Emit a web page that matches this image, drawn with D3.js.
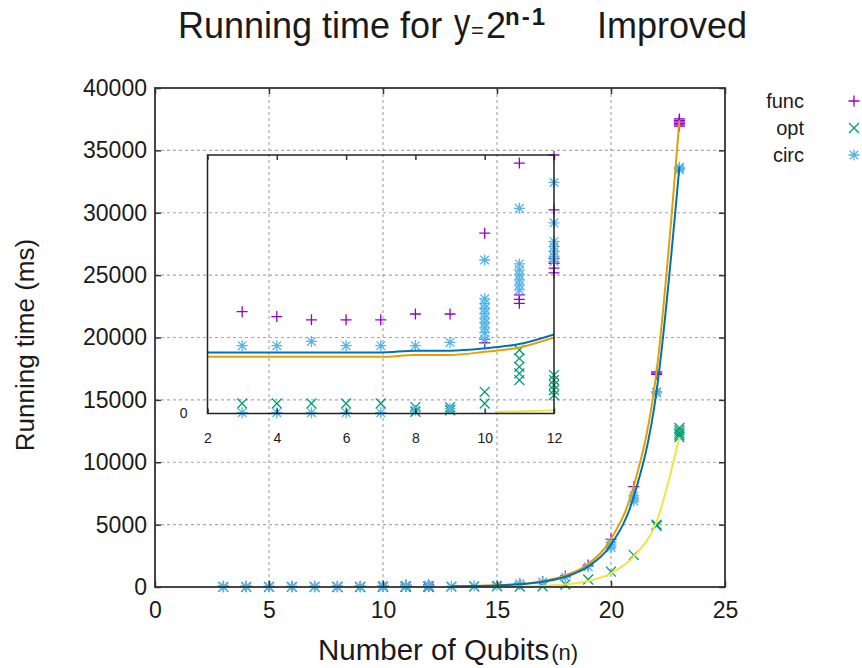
<!DOCTYPE html>
<html>
<head>
<meta charset="utf-8">
<script src="https://cdn.jsdelivr.net/npm/d3@7"></script>
<style>
  body { margin: 0; background: #fff; }
  svg { display: block; }
  text { font-family: "Liberation Sans", Arial, sans-serif; fill: #1a1a1a; }
</style>
</head>
<body>
<svg id="chart" width="862" height="668"></svg>
<script>
// ---- axis ticks ----
const xTicks = [0, 5, 10, 15, 20, 25];
const yTicks = [0, 5000, 10000, 15000, 20000, 25000, 30000, 35000, 40000];
const insetXTicks = [2, 4, 6, 8, 10, 12];
const insetYTicks = [0];

// ---- series (qubits n, running time in ms) ----
const seriesNames = ["func", "opt", "circ"];
const seriesColors = ["#9400d3", "#009e73", "#56b4e9"];

const funcPoints = [
  [3, 63], [4, 60], [5, 58], [6, 58], [7, 58], [8, 61.6], [9, 61.6],
  [10, 111.6], [10, 45.9], [10, 43.8],
  [11, 155], [11, 73.4], [11, 70.7], [11, 68.2],
  [12, 160], [12, 126], [12, 96], [12, 93], [12, 90], [12, 87],
  [16, 250], [17, 450], [18, 880], [19, 1760], [20, 3820], [21, 8040],
  [22, 17250], [22, 17150], [22, 17050],
  [23, 37520], [23, 37400], [23, 37280], [23, 37160], [23, 37040], [23, 36950]
];

const optPoints = [
  [3, 6.2], [4, 6.2], [5, 6.2], [6, 6.2], [7, 6.2], [8, 4], [8, 1], [9, 4], [9, 2],
  [10, 13.4], [10, 6.2],
  [11, 39.3], [11, 34.1], [11, 28.9], [11, 24.8], [11, 20.7],
  [12, 23.8], [12, 20.7], [12, 17.6], [12, 14.5], [12, 11.4],
  [13, 30], [14, 40], [15, 50], [16, 40], [17, 60], [18, 200], [19, 600],
  [20, 1230], [21, 2560], [22, 4900], [22, 5000],
  [23, 12750], [23, 12550], [23, 12350], [23, 12200], [23, 12020]
];

const circPoints = [
  [3, 0.5], [4, 0.5], [5, 0.5], [6, 0.5], [7, 0.5], [8, 2], [9, 3],
  [3, 42], [4, 42], [5, 44.6], [6, 42], [7, 42], [8, 42], [9, 44],
  [10, 95], [10, 71], [10, 68], [10, 65], [10, 62], [10, 59], [10, 56], [10, 53], [10, 50], [10, 46],
  [11, 127], [11, 92.6], [11, 88.9], [11, 85.8], [11, 82.7], [11, 79.6], [11, 76.5],
  [12, 143], [12, 118], [12, 106.5], [12, 103.4], [12, 100.3], [12, 97.2], [12, 94.1],
  [13, 60], [14, 95], [15, 150], [16, 290], [17, 400], [18, 780], [19, 1630],
  [20, 3550], [20, 3350], [20, 3150], [21, 7300], [21, 7100], [21, 6900],
  [22, 15650], [22, 15550], [23, 33650], [23, 33550], [23, 33450]
];

// ---- fitted curves ----
const funcFit = [
  [2, 35.1], [3, 35.1], [4, 35.1], [5, 35.1], [6, 35.1], [7, 35.1], [8, 36.2], [9, 36.2],
  [10, 38.2], [11, 40.9], [12, 47.1], [13, 59], [14, 85], [15, 135], [16, 240], [17, 470],
  [18, 930], [19, 1850], [20, 3850], [21, 8100], [22, 17300], [23, 37400]
];
const circFit = [
  [2, 37.8], [3, 37.8], [4, 37.8], [5, 37.8], [6, 37.8], [7, 37.8], [8, 38.9], [9, 38.9],
  [10, 40.3], [11, 43], [12, 49], [13, 60], [14, 82], [15, 125], [16, 220], [17, 420],
  [18, 820], [19, 1650], [20, 3400], [21, 7250], [22, 15700], [23, 33700]
];
const optFit = [
  [10.3, 1.0], [11, 1.3], [12, 2.0], [13, 4], [14, 8], [15, 18], [16, 40], [17, 90],
  [18, 210], [19, 480], [20, 1100], [21, 2450], [22, 5250], [23, 12000]
];
const fitColors = { func: "#e69f00", opt: "#f0e442", circ: "#0072b2" };

const svg = d3.select("#chart");
const frameColor = "#333";
const gridColor = "#a8a8a8";
const fmt = d3.format("d");

// ---- marker glyphs ----
function glyph(kind, r) {
  const plus = `M${-r},0H${r}M0,${-r}V${r}`;
  const c = r * 0.78;
  const cross = `M${-c},${-c}L${c},${c}M${-c},${c}L${c},${-c}`;
  if (kind === "func") return plus;
  const o = r * 0.9;
  if (kind === "opt") return `M${-o},${-o}L${o},${o}M${-o},${o}L${o},${-o}`;
  return plus + cross;
}
const seriesData = { func: funcPoints, opt: optPoints, circ: circPoints };

function drawPoints(g, x, y, filter) {
  seriesNames.forEach((name, i) => {
    g.append("g").selectAll("path")
      .data(seriesData[name].filter(filter))
      .join("path")
      .attr("transform", d => `translate(${x(d[0])},${y(d[1])})`)
      .attr("d", glyph(name, 5.5))
      .attr("fill", "none")
      .attr("stroke", seriesColors[i])
      .attr("stroke-width", 1.3);
  });
}
function drawFits(g, x, y, xmin, xmax) {
  const line = d3.line().x(d => x(d[0])).y(d => y(d[1])).curve(d3.curveMonotoneX);
  [["func", funcFit], ["opt", optFit], ["circ", circFit]].forEach(([name, data]) => {
    g.append("path")
      .datum(data.filter(d => d[0] >= xmin && d[0] <= xmax))
      .attr("d", line)
      .attr("fill", "none")
      .attr("stroke", fitColors[name])
      .attr("stroke-width", 2);
  });
}
function styleAxis(g, size) {
  g.select(".domain").remove();
  g.selectAll(".tick line").attr("stroke", frameColor).attr("stroke-width", 1.5);
  g.selectAll("text").attr("font-size", size).attr("fill", "#1a1a1a")
    .attr("font-family", '"Liberation Sans", Arial, sans-serif');
}

// ---- main plot ----
const x = d3.scaleLinear().domain([0, 25]).range([155, 725]);
const y = d3.scaleLinear().domain([0, 40000]).range([587, 88]);
const W = x.range()[1] - x.range()[0];
const H = y.range()[0] - y.range()[1];

// dotted grid
const grid = svg.append("g").attr("stroke", gridColor).attr("stroke-width", 1.2).attr("stroke-dasharray", "3,3");
grid.selectAll("line.v").data(xTicks.slice(1, -1)).join("line")
  .attr("x1", d => x(d)).attr("x2", d => x(d)).attr("y1", y.range()[1]).attr("y2", y.range()[0]);
grid.selectAll("line.h").data(yTicks.slice(1, -1)).join("line")
  .attr("x1", x.range()[0]).attr("x2", x.range()[1]).attr("y1", d => y(d)).attr("y2", d => y(d));

const mainG = svg.append("g");
drawPoints(mainG, x, y, () => true);
drawFits(mainG, x, y, 13, 25);

// axes with inward ticks on all four sides, border in front of the data
svg.append("g").attr("transform", `translate(0,${y(0)})`)
  .call(d3.axisBottom(x).tickValues(xTicks).tickFormat(fmt).tickSizeInner(-6).tickSizeOuter(0).tickPadding(15))
  .call(g => styleAxis(g, 23));
svg.append("g").attr("transform", `translate(0,${y(40000)})`)
  .call(d3.axisTop(x).tickValues(xTicks).tickSizeInner(-6).tickSizeOuter(0).tickFormat(""))
  .call(g => styleAxis(g, 23));
svg.append("g").attr("transform", `translate(${x(0)},0)`)
  .call(d3.axisLeft(y).tickValues(yTicks).tickFormat(fmt).tickSizeInner(-6).tickSizeOuter(0).tickPadding(8))
  .call(g => styleAxis(g, 23));
svg.append("g").attr("transform", `translate(${x(25)},0)`)
  .call(d3.axisRight(y).tickValues(yTicks).tickSizeInner(-6).tickSizeOuter(0).tickFormat(""))
  .call(g => styleAxis(g, 23));

svg.append("rect").attr("x", x(0)).attr("y", y(40000)).attr("width", W).attr("height", H)
  .attr("fill", "none").attr("stroke", frameColor).attr("stroke-width", 1.8);

// ---- inset: close-up of small n ----
const ix = d3.scaleLinear().domain([2, 12]).range([207.5, 554]);
const iy = d3.scaleLinear().domain([0, 160]).range([413.5, 155]);
const defs = svg.append("defs");
defs.append("clipPath").attr("id", "insetPts").append("rect")
  .attr("x", ix(2) - 10).attr("y", iy(160) - 4).attr("width", ix(12) - ix(2) + 20).attr("height", iy(0) - iy(160) + 14);
defs.append("clipPath").attr("id", "insetLines").append("rect")
  .attr("x", ix(2)).attr("y", iy(160)).attr("width", ix(12) - ix(2)).attr("height", iy(0) - iy(160));

const insetPts = svg.append("g").attr("clip-path", "url(#insetPts)");
drawPoints(insetPts, ix, iy, d => d[0] >= 2 && d[0] <= 12);
const insetLines = svg.append("g").attr("clip-path", "url(#insetLines)");
drawFits(insetLines, ix, iy, 2, 12);

svg.append("g").attr("transform", `translate(0,${iy(0)})`)
  .call(d3.axisBottom(ix).tickValues(insetXTicks).tickFormat(fmt).tickSizeInner(-5).tickSizeOuter(0).tickPadding(20))
  .call(g => styleAxis(g, 14));
svg.append("g").attr("transform", `translate(0,${iy(160)})`)
  .call(d3.axisTop(ix).tickValues(insetXTicks).tickSizeInner(-5).tickSizeOuter(0).tickFormat(""))
  .call(g => styleAxis(g, 14));
svg.append("g").attr("transform", `translate(${ix(2)},0)`)
  .call(d3.axisLeft(iy).tickValues(insetYTicks).tickFormat(fmt).tickSize(0).tickPadding(20))
  .call(g => styleAxis(g, 14));

svg.append("rect").attr("x", ix(2)).attr("y", iy(160)).attr("width", ix(12) - ix(2)).attr("height", iy(0) - iy(160))
  .attr("fill", "none").attr("stroke", "#222").attr("stroke-width", 1.5);

// ---- legend ----
const legend = svg.append("g");
seriesNames.forEach((name, i) => {
  const ly = 101 + i * 27;
  legend.append("text").attr("x", 804).attr("y", ly + 7).attr("text-anchor", "end")
    .attr("font-size", 20).text(name);
  legend.append("path").attr("transform", `translate(854,${ly})`)
    .attr("d", glyph(name, 5.5)).attr("fill", "none")
    .attr("stroke", seriesColors[i]).attr("stroke-width", 1.3);
});

// ---- titles ----
svg.append("text").attr("x", 178).attr("y", 38).attr("font-size", 36).text("Running time for");
svg.append("text").attr("transform", "translate(454,37) scale(0.82,1)").attr("font-size", 40).text("y");
svg.append("text").attr("x", 471).attr("y", 38).attr("font-size", 22).text("=");
svg.append("text").attr("x", 486).attr("y", 38).attr("font-size", 36).text("2");
svg.append("text").attr("x", 505).attr("y", 25).attr("font-size", 24).attr("font-weight", "bold")
  .attr("letter-spacing", 2).text("n-1");
svg.append("text").attr("x", 597).attr("y", 38).attr("font-size", 36).text("Improved");

svg.append("text").attr("transform", "translate(34,345) rotate(-90)").attr("text-anchor", "middle")
  .attr("font-size", 26).text("Running time (ms)");
svg.append("text").attr("x", 318).attr("y", 660).attr("font-size", 29.5)
  .text("Number of Qubits")
  .append("tspan").attr("font-size", 22).attr("dx", 2).text("(n)");
</script>
</body>
</html>
